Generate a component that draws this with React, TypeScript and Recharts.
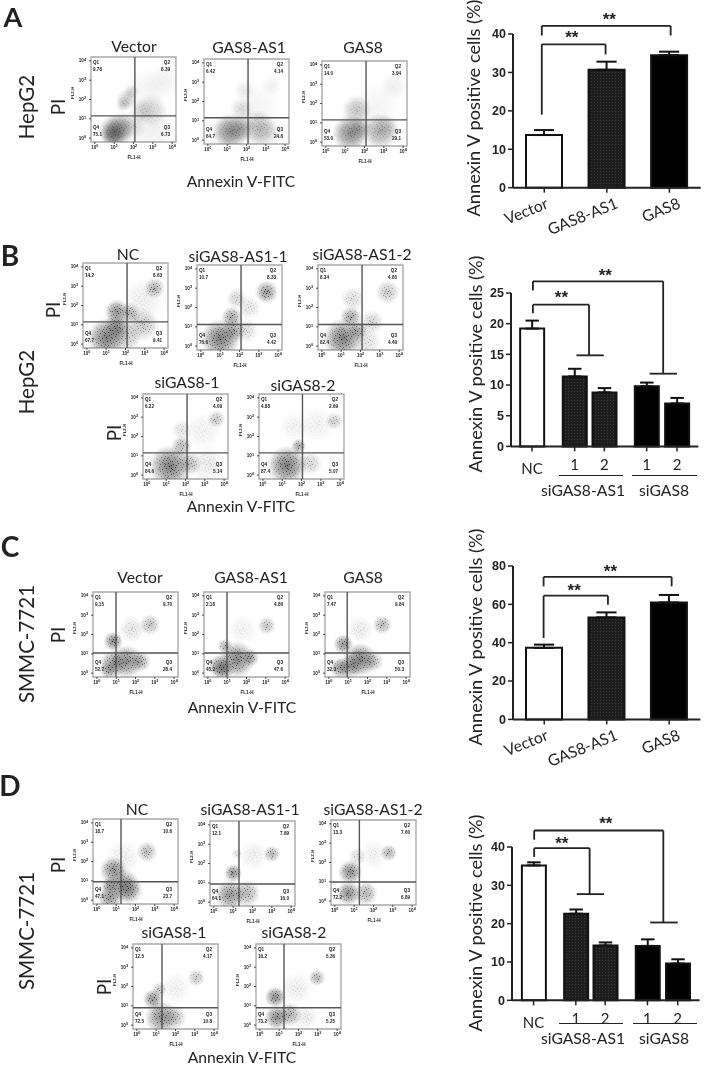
import React from "react";
import {
  BarChart, Bar, Cell, ErrorBar, ReferenceLine, ReferenceDot, ReferenceArea,
  ScatterChart, Scatter, XAxis, YAxis,
} from "recharts";

// ---- bar chart values ----
const barLabelsAC = ["Vector", "GAS8-AS1", "GAS8"];
const barLabelsBD = ["NC", "1", "2", "1", "2"];
const posAC = [0, 1, 2];
const posB = [0, 1.42, 2.41, 3.82, 4.83];
const posD = [0, 1.41, 2.39, 3.8, 4.81];

const valuesA = [13.7, 30.7, 34.5];
const errorsA = [1.3, 2.1, 0.9];
const valuesB = [19.2, 11.4, 8.8, 9.8, 7.0];
const errorsB = [1.3, 1.25, 0.7, 0.6, 0.9];
const valuesC = [37.3, 53.2, 61];
const errorsC = [1.7, 2.6, 3.9];
const valuesD = [35.2, 22.6, 14.3, 14.2, 9.6];
const errorsD = [0.8, 1.1, 0.8, 1.7, 1.1];

const ticksA = [0, 10, 20, 30, 40];
const ticksB = [0, 5, 10, 15, 20, 25];
const ticksC = [0, 20, 40, 60, 80];
const ticksD = [0, 10, 20, 30, 40];

// significance brackets as polylines in data units
const bracketsA = [
  [[-0.04, 39.6], [-0.04, 42.1], [2.02, 42.1], [2.02, 39.6]],
  [[-0.04, 19], [-0.04, 37.3], [0.98, 37.3], [0.98, 34.7]],
];
const bracketsB = [
  [[0.03, 25.4], [0.03, 26.9], [4.37, 26.9], [4.37, 11.85]],
  [[3.92, 11.85], [4.83, 11.85]],
  [[0.03, 21.7], [0.03, 23.1], [1.9, 23.1], [1.9, 14.84]],
  [[1.48, 14.84], [2.39, 14.84]],
];
const bracketsC = [
  [[-0.01, 69.4], [-0.01, 74.3], [2.04, 74.3], [2.04, 69.4]],
  [[-0.01, 42.4], [-0.01, 64.5], [1.02, 64.5], [1.02, 59.8]],
];
const bracketsD = [
  [[0.02, 41.9], [0.02, 44.3], [4.33, 44.3], [4.33, 20.3]],
  [[3.89, 20.3], [4.81, 20.3]],
  [[0.02, 37.4], [0.02, 39.7], [1.87, 39.7], [1.87, 27.7]],
  [[1.44, 27.7], [2.35, 27.7]],
];
const starsA = [[1.04, 43.9], [0.44, 39.1]];
const starsB = [[2.44, 28.0], [0.98, 24.3]];
const starsC = [[1.06, 77.5], [0.48, 67.5]];
const starsD = [[2.41, 46.2], [0.94, 41.1]];

// ---- flow plots ----
// quadrant percentages: Q1, Q2, Q3, Q4
const quadA1 = ["9.78", "8.39", "6.73", "75.1"];
const quadA2 = ["6.42", "4.14", "24.8", "64.7"];
const quadA3 = ["14.0", "3.94", "29.1", "53.0"];
const quadB1 = ["14.2", "8.63", "9.41", "67.7"];
const quadB2 = ["10.7", "8.33", "4.42", "76.6"];
const quadB3 = ["8.34", "4.80", "4.49", "82.4"];
const quadB4 = ["6.22", "4.09", "5.14", "84.6"];
const quadB5 = ["4.88", "2.69", "5.07", "87.4"];
const quadC1 = ["9.15", "9.70", "28.4", "52.7"];
const quadC2 = ["2.18", "4.86", "47.6", "45.2"];
const quadC3 = ["7.47", "9.84", "50.3", "32.3"];
const quadD1 = ["18.7", "10.6", "23.7", "47.1"];
const quadD2 = ["12.1", "7.89", "16.0", "64.1"];
const quadD3 = ["13.3", "7.60", "6.89", "72.2"];
const quadD4 = ["12.5", "4.17", "10.8", "72.5"];
const quadD5 = ["16.2", "5.36", "5.25", "73.2"];

// gate positions in log10 units: FL1, FL2
const gateA1 = [2.07, 1.15];
const gateA2 = [2.08, 1.16];
const gateA3 = [2.08, 1.15];
const gateB1 = [2.08, 1.15];
const gateB2 = [2.08, 1.12];
const gateB3 = [2.08, 1.12];
const gateB4 = [2.08, 1.15];
const gateB5 = [2.05, 1.15];
const gateC1 = [0.99, 1.04];
const gateC2 = [0.99, 1.04];
const gateC3 = [0.95, 1.04];
const gateD1 = [1.25, 0.95];
const gateD2 = [1.3, 0.94];
const gateD3 = [1.27, 0.99];
const gateD4 = [1.3, 0.9];
const gateD5 = [1.25, 0.9];

// cell populations estimated by eye: log10 FL1, log10 FL2, spread in decades, density 0-1
type Cloud = number[];
const cloudsA1: Cloud[] = [
  [1.05, 0.35, 0.55, 0.9], [0.95, 0.2, 0.4, 0.8], [1.4, 0.6, 0.5, 0.45], [1.9, 0.6, 0.5, 0.22],
  [1.65, 2.0, 0.35, 0.35], [1.9, 2.4, 0.25, 0.25], [1.45, 1.75, 0.25, 0.3], [2.9, 1.45, 0.55, 0.3],
  [2.4, 1.4, 0.4, 0.22], [3.5, 2.9, 0.6, 0.1], [3, 0.5, 0.9, 0.1], [2.5, 2.5, 0.7, 0.07],
];
const cloudsA2: Cloud[] = [
  [1.15, 0.44, 0.6, 0.85], [1.7, 0.6, 0.45, 0.5], [2.6, 0.61, 0.6, 0.5], [3.1, 0.4, 0.5, 0.2],
  [1.75, 1.57, 0.4, 0.25], [1.9, 2.6, 0.35, 0.14], [3.3, 2.8, 0.35, 0.1], [2.5, 1.8, 0.8, 0.07],
];
const cloudsA3: Cloud[] = [
  [1.27, 0.46, 0.6, 0.85], [1.75, 0.7, 0.4, 0.5], [1.6, 1.66, 0.5, 0.42], [2.8, 0.55, 0.6, 0.6],
  [3.2, 0.8, 0.4, 0.2], [3.5, 2.9, 0.45, 0.12], [2.6, 1.8, 0.8, 0.08],
];
const cloudsB1: Cloud[] = [
  [1.03, 0.32, 0.65, 0.95], [1.55, 1.7, 0.4, 0.8], [2.23, 1.6, 0.35, 0.55], [2.9, 1.0, 0.55, 0.4],
  [3.5, 2.9, 0.35, 0.55], [1.55, 0.9, 0.45, 0.8], [2.06, 0.4, 0.5, 0.4], [2.9, 2.3, 0.7, 0.12],
];
const cloudsB2: Cloud[] = [
  [1.0, 0.38, 0.65, 0.95], [1.6, 1.5, 0.35, 0.65], [1.85, 2.45, 0.35, 0.3], [3.4, 2.8, 0.38, 0.75],
  [2.35, 0.8, 0.4, 0.25], [2.5, 2.0, 0.4, 0.2], [1.7, 0.8, 0.4, 0.6],
];
const cloudsB3: Cloud[] = [
  [1.08, 0.4, 0.65, 0.95], [1.5, 1.5, 0.35, 0.65], [1.6, 2.45, 0.4, 0.25], [2.6, 1.25, 0.4, 0.3],
  [3.4, 2.8, 0.4, 0.4], [2.3, 0.25, 0.5, 0.22], [1.85, 0.8, 0.35, 0.6],
];
const cloudsB4: Cloud[] = [
  [1.2, 0.45, 0.7, 0.95], [1.8, 1.5, 0.35, 0.5], [1.8, 2.35, 0.35, 0.2], [3.6, 2.9, 0.3, 0.4],
  [3.1, 0.6, 0.6, 0.15], [2.2, 0.6, 0.4, 0.45], [2.9, 2.3, 0.6, 0.1],
];
const cloudsB5: Cloud[] = [
  [1.25, 0.5, 0.65, 0.95], [1.85, 1.5, 0.25, 0.65], [3.7, 2.8, 0.3, 0.35], [2.45, 0.6, 0.4, 0.3],
  [1.6, 2.5, 0.5, 0.1], [2.8, 2.6, 0.6, 0.1],
];
const cloudsC1: Cloud[] = [
  [1.54, 0.6, 0.55, 0.85], [0.85, 0.5, 0.45, 0.75], [0.6, 0.15, 0.3, 0.6], [0.85, 1.65, 0.32, 0.85],
  [2.75, 2.5, 0.35, 0.45], [1.8, 2.25, 0.45, 0.2], [2.25, 0.6, 0.35, 0.6],
];
const cloudsC2: Cloud[] = [
  [1.5, 0.7, 0.6, 0.9], [0.62, 0.35, 0.4, 0.8], [0.88, 1.4, 0.25, 0.55], [3.05, 2.45, 0.3, 0.45],
  [1.8, 2.25, 0.5, 0.1], [0.8, 0.2, 0.35, 0.7], [2.2, 0.8, 0.3, 0.6],
];
const cloudsC3: Cloud[] = [
  [1.63, 0.7, 0.55, 0.95], [0.6, 0.27, 0.35, 0.8], [0.75, 1.5, 0.33, 0.8], [2.77, 2.5, 0.32, 0.55],
  [1.63, 2.25, 0.45, 0.15], [1.1, 0.35, 0.4, 0.7], [2.3, 0.6, 0.35, 0.45],
];
const cloudsD1: Cloud[] = [
  [1.37, 0.76, 0.55, 0.85], [0.67, 0.15, 0.4, 0.8], [0.85, 1.55, 0.45, 0.8], [2.6, 2.5, 0.35, 0.5],
  [1.7, 0.5, 0.45, 0.6], [0.67, 0.76, 0.3, 0.7], [1.37, 2.2, 0.6, 0.12],
];
const cloudsD2: Cloud[] = [
  [0.83, 0.37, 0.5, 0.8], [1.0, 1.5, 0.3, 0.8], [1.7, 0.45, 0.45, 0.55], [3.0, 2.5, 0.28, 0.55],
  [1.18, 2.5, 0.2, 0.2], [2.04, 2.4, 0.5, 0.12],
];
const cloudsD3: Cloud[] = [
  [0.7, 0.4, 0.4, 0.85], [0.8, 1.5, 0.4, 0.85], [1.6, 0.4, 0.4, 0.55], [2.8, 2.5, 0.28, 0.55],
  [1.15, 2.3, 0.3, 0.25], [2.0, 2.4, 0.5, 0.1],
];
const cloudsD4: Cloud[] = [
  [1.27, 0.4, 0.55, 0.8], [0.83, 1.35, 0.33, 0.8], [1.18, 1.85, 0.25, 0.4], [3.08, 2.45, 0.3, 0.4],
  [1.95, 0.4, 0.4, 0.45], [2.0, 1.9, 0.55, 0.1],
];
const cloudsD5: Cloud[] = [
  [0.87, 0.4, 0.4, 0.85], [0.8, 1.45, 0.35, 0.85], [1.55, 0.55, 0.4, 0.6], [2.95, 2.45, 0.28, 0.55],
  [1.9, 1.9, 0.55, 0.12], [2.4, 0.4, 0.4, 0.15],
];

const decades = [0, 1, 2, 3, 4];
const logDomain = [-0.2, 4.2];
// speckle tile for the cloud texture
const grainDots = [
  [1, 2], [4, 0], [7, 3], [10, 1], [13, 4], [2, 6], [5, 5], [8, 7], [11, 6], [0, 9], [3, 10], [6, 8],
  [9, 10], [12, 9], [1, 13], [4, 12], [7, 14], [10, 12], [14, 11], [15, 15], [12, 14], [6, 2],
  [17, 1], [20, 3], [22, 0], [18, 5], [21, 7], [16, 8], [19, 10], [22, 11], [17, 13], [20, 15],
  [3, 16], [8, 17], [13, 16], [18, 17], [22, 16], [0, 17], [6, 18], [11, 18], [15, 12], [9, 4],
  [14, 7], [2, 11], [5, 14], [21, 13], [16, 3],
];

const SANS = "Lato, 'Noto Sans', sans-serif";
const ARIAL = "'Liberation Sans', Arial, sans-serif";

function Label({ x, y, size = 15.7, rotate = 0, weight = 400, children }: any) {
  return (
    <div style={{
      position: "absolute", left: x, top: y, transform: `translate(-50%,-50%) rotate(${rotate}deg)`,
      whiteSpace: "nowrap", fontFamily: SANS, fontSize: size, fontWeight: weight, color: "#222", lineHeight: 1,
    }}>
      {children}
    </div>
  );
}

function Rule({ x1, x2, y }: any) {
  return <div style={{ position: "absolute", left: x1, width: x2 - x1, top: y, height: 1, background: "#222" }} />;
}

function Defs() {
  return (
    <svg width="0" height="0" style={{ position: "absolute" }}>
      <defs>
        <pattern id="grain" width="23" height="19" patternUnits="userSpaceOnUse">
          {grainDots.map((d, i) => <rect key={i} x={d[0]} y={d[1]} width="1" height="1" fill="#1c1c1c" />)}
        </pattern>
        <radialGradient id="haze">
          <stop offset="0%" stopColor="#444" stopOpacity="0.75" />
          <stop offset="50%" stopColor="#555" stopOpacity="0.5" />
          <stop offset="100%" stopColor="#777" stopOpacity="0" />
        </radialGradient>
        <radialGradient id="fade">
          <stop offset="0%" stopColor="#ddd" />
          <stop offset="40%" stopColor="#888" />
          <stop offset="85%" stopColor="#000" />
        </radialGradient>
        <mask id="soft" maskUnits="objectBoundingBox" maskContentUnits="objectBoundingBox" x="0" y="0" width="1" height="1">
          <rect width="1" height="1" fill="url(#fade)" />
        </mask>
        <pattern id="dotted" width="3" height="3" patternUnits="userSpaceOnUse">
          <rect width="3" height="3" fill="#1d1d1d" />
          <rect width="1" height="1" fill="#3a3a3a" />
        </pattern>
      </defs>
    </svg>
  );
}

function powerTick({ x, y, payload, axis }: any) {
  const tx = axis === "x" ? x : x - 1;
  const ty = axis === "x" ? y + 3 : y + 1.5;
  return (
    <text x={tx} y={ty} textAnchor={axis === "x" ? "middle" : "end"} fontSize={4.6} fontWeight={700}
      fontFamily={ARIAL} fill="#222">
      10<tspan dy={-1.8} fontSize={3.8}>{payload.value}</tspan>
    </text>
  );
}

function FlowPlot({ left, top, width = 85, height = 85, gate, quad, clouds, grain = 1 }: any) {
  const leftPad = 24;
  const bottomPad = 22;
  const pxPerDecade = width / 4.4;
  const data = clouds.map((c: Cloud) => ({ x: c[0], y: c[1], spread: c[2], density: c[3] }));
  const qText = { position: "absolute", fontFamily: ARIAL, fontSize: 4.6, fontWeight: 700, color: "#222", lineHeight: "6.5px", whiteSpace: "pre" } as any;
  return (
    <div style={{ position: "absolute", left: left - leftPad, top: top - 4 }}>
      <ScatterChart width={width + leftPad + 6} height={height + 4 + bottomPad}
        margin={{ top: 4, right: 6, bottom: 0, left: 0 }}>
        <XAxis type="number" dataKey="x" domain={logDomain} ticks={decades} allowDataOverflow height={bottomPad}
          tickSize={2} tickLine={{ stroke: "#222", strokeWidth: 0.8 }} axisLine={false}
          tick={(p: any) => powerTick({ ...p, axis: "x" })} interval={0} />
        <YAxis type="number" dataKey="y" domain={logDomain} ticks={decades} allowDataOverflow width={leftPad}
          tickSize={2} tickLine={{ stroke: "#222", strokeWidth: 0.8 }} axisLine={false}
          tick={(p: any) => powerTick({ ...p, axis: "y" })} interval={0} />
        <Scatter data={data} isAnimationActive={false} shape={(p: any) => {
          const r = p.payload.spread * pxPerDecade * 1.6;
          return (
            <g style={{ filter: "blur(0.3px)" }}>
              <circle cx={p.cx} cy={p.cy} r={r} fill="url(#haze)" opacity={p.payload.density} />
              <circle cx={p.cx} cy={p.cy} r={r} fill="url(#grain)" mask="url(#soft)" opacity={Math.min(1, p.payload.density * 1.5) * grain} />
            </g>
          );
        }} />
        <ReferenceArea x1={logDomain[0]} x2={logDomain[1]} y1={logDomain[0]} y2={logDomain[1]}
          fill="none" stroke="#a8a8a8" strokeWidth={1.4} ifOverflow="visible" />
        <ReferenceLine x={gate[0]} stroke="#555" strokeWidth={1.4} />
        <ReferenceLine y={gate[1]} stroke="#555" strokeWidth={1.4} />
      </ScatterChart>
      <div style={{ ...qText, left: leftPad + 2, top: 7 }}>{"Q1\n" + quad[0]}</div>
      <div style={{ ...qText, right: 12, top: 7, textAlign: "right" }}>{"Q2\n" + quad[1]}</div>
      <div style={{ ...qText, right: 12, top: height - 13, textAlign: "right" }}>{"Q3\n" + quad[2]}</div>
      <div style={{ ...qText, left: leftPad + 2, top: height - 13 }}>{"Q4\n" + quad[3]}</div>
      <div style={{ ...qText, left: leftPad + width / 2 - 6, top: height + 17 }}>FL1-H</div>
      <div style={{ ...qText, left: 3, top: height / 2 + 3, transform: "rotate(-90deg)", transformOrigin: "left top", fontSize: 4.4 }}>FL2-H</div>
    </div>
  );
}

function BarPanel({ left, top, width, height, positions, labels, values, errors, ticks, xDomain, fills, barSize, brackets, stars, rotated }: any) {
  const axisW = 36;
  const topPad = 34;
  const bottomPad = 62;
  const data = values.map((v: number, i: number) => ({ pos: positions[i], value: v, err: [0, errors[i]] }));
  const segments = brackets.flatMap((line: number[][]) => line.slice(1).map((pt, i) => [line[i], pt]));
  const renderTick = ({ x, y, payload }: any) => {
    const label = labels[positions.indexOf(payload.value)];
    if (rotated) {
      const ax = x + (label === "Vector" ? 5 : 12);
      return <text x={ax} y={y + 13} textAnchor="end" fontFamily={SANS} fontSize={15.7} fill="#222" transform={`rotate(-22 ${ax} ${y + 13})`}>{label}</text>;
    }
    return <text x={x} y={y + (label === "NC" ? 21 : 17)} textAnchor="middle" fontFamily={SANS} fontSize={15} fill="#222">{label}</text>;
  };
  return (
    <div style={{ position: "absolute", left: left - axisW, top: top - topPad }}>
      <BarChart width={width + axisW + 4} height={height + topPad + bottomPad} data={data}
        margin={{ top: topPad, right: 4, bottom: 0, left: 0 }}>
        <XAxis type="number" dataKey="pos" domain={xDomain} ticks={positions} allowDataOverflow height={bottomPad}
          interval={0} tickSize={5} axisLine={{ stroke: "#222", strokeWidth: 2 }} tickLine={{ stroke: "#222", strokeWidth: 1.5 }}
          tick={renderTick} />
        <YAxis type="number" domain={[0, ticks[ticks.length - 1]]} ticks={ticks} width={axisW} interval={0} tickSize={5}
          axisLine={{ stroke: "#222", strokeWidth: 2 }} tickLine={{ stroke: "#222", strokeWidth: 1.5 }}
          tick={{ fontFamily: ARIAL, fontWeight: 700, fontSize: 12.5, fill: "#222" }} />
        <Bar dataKey="value" barSize={barSize} stroke="#111" strokeWidth={2} isAnimationActive={false}>
          {data.map((_: any, i: number) => <Cell key={i} fill={fills[i]} />)}
          <ErrorBar dataKey="err" direction="y" width={barSize * 0.28} stroke="#111" strokeWidth={2} isAnimationActive={false} />
        </Bar>
        {segments.map((s: number[][], i: number) => (
          <ReferenceLine key={i} ifOverflow="visible" stroke="#222" strokeWidth={1.8}
            segment={[{ x: s[0][0], y: s[0][1] }, { x: s[1][0], y: s[1][1] }]} />
        ))}
        {stars.map((s: number[], i: number) => (
          <ReferenceDot key={i} x={s[0]} y={s[1]} r={0} ifOverflow="visible"
            label={{ value: "**", position: "center", fontFamily: ARIAL, fontWeight: 700, fontSize: 17, fill: "#222" }} />
        ))}
      </BarChart>
    </div>
  );
}

const fillsAC = ["#fff", "url(#dotted)", "#000"];
const fillsBD = ["#fff", "url(#dotted)", "url(#dotted)", "#000", "#000"];
const YLABEL = "Annexin V positive cells (%)";
const FITC = "Annexin V-FITC";

export default function App() {
  return (
    <div style={{ position: "absolute", left: 0, top: 0, width: 704, height: 1066, overflow: "hidden", background: "#fff", filter: "blur(0.3px)" }}>
      <Defs />

      {/* A */}
      <Label x={13} y={16} size={27} weight={700}>A</Label>
      <Label x={26} y={107} size={20.5} rotate={-90}>HepG2</Label>
      <Label x={57} y={107} size={19} rotate={-90}>PI</Label>
      <Label x={134} y={47}>Vector</Label>
      <Label x={249} y={48}>GAS8-AS1</Label>
      <Label x={363} y={48}>GAS8</Label>
      <FlowPlot left={91} top={57} gate={gateA1} quad={quadA1} clouds={cloudsA1} grain={0.4} />
      <FlowPlot left={204} top={59} gate={gateA2} quad={quadA2} clouds={cloudsA2} grain={0.4} />
      <FlowPlot left={322} top={61} gate={gateA3} quad={quadA3} clouds={cloudsA3} grain={0.4} />
      <Label x={241} y={182}>{FITC}</Label>
      <Label x={473} y={108} size={18.2} rotate={-90}>{YLABEL}</Label>
      <BarPanel left={513.3} top={34.3} width={187.7} height={153.7} positions={posAC} labels={barLabelsAC}
        values={valuesA} errors={errorsA} ticks={ticksA} xDomain={[-0.5, 2.5]} fills={fillsAC} barSize={36}
        brackets={bracketsA} stars={starsA} rotated />

      {/* B */}
      <Label x={10} y={255} size={28} weight={700}>B</Label>
      <Label x={26} y={382} size={20.5} rotate={-90}>HepG2</Label>
      <Label x={52} y={310} size={19} rotate={-90}>PI</Label>
      <Label x={113} y={433} size={19} rotate={-90}>PI</Label>
      <Label x={128} y={255}>NC</Label>
      <Label x={238} y={257}>siGAS8-AS1-1</Label>
      <Label x={362} y={255}>siGAS8-AS1-2</Label>
      <Label x={187} y={383}>siGAS8-1</Label>
      <Label x={303} y={386}>siGAS8-2</Label>
      <FlowPlot left={83} top={263} gate={gateB1} quad={quadB1} clouds={cloudsB1} />
      <FlowPlot left={197} top={265} gate={gateB2} quad={quadB2} clouds={cloudsB2} />
      <FlowPlot left={318} top={265} gate={gateB3} quad={quadB3} clouds={cloudsB3} />
      <FlowPlot left={143} top={394} gate={gateB4} quad={quadB4} clouds={cloudsB4} />
      <FlowPlot left={259} top={394} gate={gateB5} quad={quadB5} clouds={cloudsB5} />
      <Label x={241} y={507}>{FITC}</Label>
      <Label x={475} y={364} size={18.2} rotate={-90}>{YLABEL}</Label>
      <BarPanel left={510.7} top={293.3} width={187.3} height={153.4} positions={posB} labels={barLabelsBD}
        values={valuesB} errors={errorsB} ticks={ticksB} xDomain={[-0.7, 5.54]} fills={fillsBD} barSize={24}
        brackets={bracketsB} stars={starsB} />
      <Rule x1={559} x2={623} y={475} />
      <Rule x1={632} x2={697} y={475} />
      <Label x={583} y={491}>siGAS8-AS1</Label>
      <Label x={664} y={491}>siGAS8</Label>

      {/* C */}
      <Label x={10} y={546} size={28} weight={700}>C</Label>
      <Label x={26} y={644} size={20.5} rotate={-90}>SMMC-7721</Label>
      <Label x={57} y={635} size={19} rotate={-90}>PI</Label>
      <Label x={140} y={578}>Vector</Label>
      <Label x={251} y={578}>GAS8-AS1</Label>
      <Label x={363} y={578}>GAS8</Label>
      <FlowPlot left={93} top={592} gate={gateC1} quad={quadC1} clouds={cloudsC1} />
      <FlowPlot left={204} top={592} gate={gateC2} quad={quadC2} clouds={cloudsC2} />
      <FlowPlot left={325} top={592} gate={gateC3} quad={quadC3} clouds={cloudsC3} />
      <Label x={242} y={708}>{FITC}</Label>
      <Label x={475} y={637} size={18.2} rotate={-90}>{YLABEL}</Label>
      <BarPanel left={513.3} top={566.3} width={187.4} height={153.4} positions={posAC} labels={barLabelsAC}
        values={valuesC} errors={errorsC} ticks={ticksC} xDomain={[-0.5, 2.5]} fills={fillsAC} barSize={36}
        brackets={bracketsC} stars={starsC} rotated />

      {/* D */}
      <Label x={10} y={785} size={28} weight={700}>D</Label>
      <Label x={26} y={931} size={20.5} rotate={-90}>SMMC-7721</Label>
      <Label x={57} y={865} size={19} rotate={-90}>PI</Label>
      <Label x={103} y={987} size={19} rotate={-90}>PI</Label>
      <Label x={137} y={810}>NC</Label>
      <Label x={250} y={810}>siGAS8-AS1-1</Label>
      <Label x={373} y={810}>siGAS8-AS1-2</Label>
      <Label x={174} y={933}>siGAS8-1</Label>
      <Label x={294} y={933}>siGAS8-2</Label>
      <FlowPlot left={93} top={819} gate={gateD1} quad={quadD1} clouds={cloudsD1} />
      <FlowPlot left={210} top={821} gate={gateD2} quad={quadD2} clouds={cloudsD2} />
      <FlowPlot left={331} top={820} gate={gateD3} quad={quadD3} clouds={cloudsD3} />
      <FlowPlot left={133} top={944} gate={gateD4} quad={quadD4} clouds={cloudsD4} />
      <FlowPlot left={256} top={944} gate={gateD5} quad={quadD5} clouds={cloudsD5} />
      <Label x={242} y={1058}>{FITC}</Label>
      <Label x={475} y={923} size={18.2} rotate={-90}>{YLABEL}</Label>
      <BarPanel left={511.7} top={846.7} width={187.6} height={153.3} positions={posD} labels={barLabelsBD}
        values={valuesD} errors={errorsD} ticks={ticksD} xDomain={[-0.72, 5.54]} fills={fillsBD} barSize={24}
        brackets={bracketsD} stars={starsD} />
      <Rule x1={559} x2={623} y={1023} />
      <Rule x1={633} x2={697} y={1023} />
      <Label x={583} y={1039}>siGAS8-AS1</Label>
      <Label x={664} y={1039}>siGAS8</Label>
    </div>
  );
}
